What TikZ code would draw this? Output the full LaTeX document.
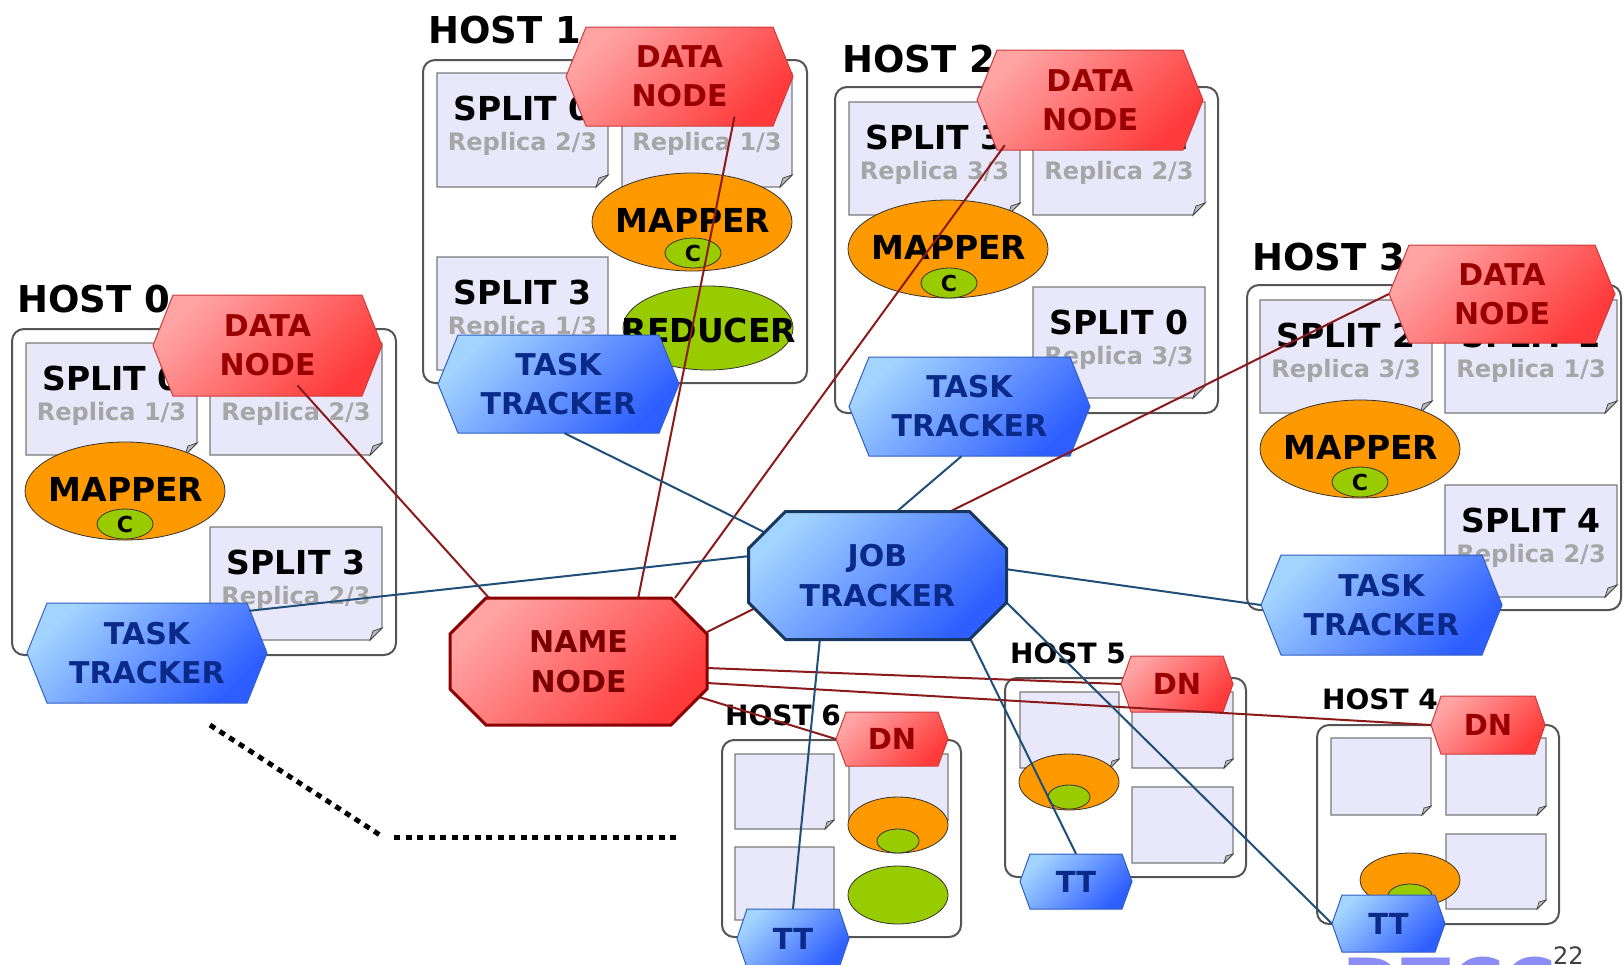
\documentclass[tikz,border=0pt]{standalone}
\usepackage{fontspec}
\setmainfont{DejaVu Sans}
\usetikzlibrary{shapes.geometric}
\definecolor{dnlight}{HTML}{FFA3A3}
\definecolor{dndark}{HTML}{FF3A3A}
\definecolor{dnborder}{HTML}{CC3A3A}
\definecolor{dntext}{HTML}{990000}
\definecolor{ttlight}{HTML}{A3D3FF}
\definecolor{ttdark}{HTML}{2E5EFF}
\definecolor{ttborder}{HTML}{2F5FBF}
\definecolor{tttext}{HTML}{0A2A8A}
\definecolor{nnborder}{HTML}{8B0000}
\definecolor{jtborder}{HTML}{17375E}
\definecolor{pagefill}{HTML}{E8E8FA}
\definecolor{pageedge}{HTML}{7A7A7A}
\definecolor{mapperor}{HTML}{FF9900}
\definecolor{cgreen}{HTML}{99CC00}
\definecolor{repgray}{HTML}{A6A6A6}
\definecolor{redline}{HTML}{8B1A1A}
\definecolor{blueline}{HTML}{1F4E79}
\definecolor{hostedge}{HTML}{555555}
\definecolor{wmblue}{HTML}{8C8CF5}

\newcommand\splitpage[7]{%
  \path[pagebox] (#2,#3) -- (#4,#3) -- (#4,{#5-12}) -- ({#4-12},#5) -- (#2,#5) -- cycle;
  \path[pagecurl] (#4,{#5-12}) -- ({#4-12},#5) -- ({#4-9},{#5-9}) -- cycle;
  \node[splittxt] (#1) at ({(#2+#4)/2},{#3+47}) {#6};
  \node[reptxt] (#1r) at ({(#2+#4)/2},{#3+77}) {#7};
}
\newcommand\blankpage[5]{%
  \path[pagebox] (#2,#3) -- (#4,#3) -- (#4,{#5-9}) -- ({#4-9},#5) -- (#2,#5) -- cycle;
  \path[pagecurl] (#4,{#5-9}) -- ({#4-9},#5) -- ({#4-7},{#5-7}) -- cycle;
  \coordinate (#1) at ({(#2+#4)/2},{(#3+#5)/2});
}
% name, cx, cy, w, h, slant, shape style, text style, text
\newcommand\hexnode[9]{%
  \path[#7] ({#2-#4/2},#3) -- ({#2-#4/2+#6},{#3-#5/2}) -- ({#2+#4/2-#6},{#3-#5/2})
     -- ({#2+#4/2},#3) -- ({#2+#4/2-#6},{#3+#5/2}) -- ({#2-#4/2+#6},{#3+#5/2}) -- cycle;
  \node[minimum width=#4pt, minimum height=#5pt, inner sep=0pt, #8] (#1) at (#2,#3) {#9};
}
% name, cx, cy, w, h, cut, shape style, text style, text
\newcommand\octnode[9]{%
  \path[#7] ({#2-#4/2},{#3-#5/2+#6}) -- ({#2-#4/2+#6},{#3-#5/2}) -- ({#2+#4/2-#6},{#3-#5/2})
     -- ({#2+#4/2},{#3-#5/2+#6}) -- ({#2+#4/2},{#3+#5/2-#6}) -- ({#2+#4/2-#6},{#3+#5/2})
     -- ({#2-#4/2+#6},{#3+#5/2}) -- ({#2-#4/2},{#3+#5/2-#6}) -- cycle;
  \node[minimum width=#4pt, minimum height=#5pt, inner sep=0pt, #8] (#1) at (#2,#3) {#9};
}

\begin{document}
\begin{tikzpicture}[x=1pt,y=-1pt,
  hostbox/.style={draw=hostedge, line width=2pt, fill=white, rounded corners=12pt},
  hostlbl/.style={font=\fontsize{37}{44}\selectfont\bfseries, anchor=base west, inner sep=0pt},
  shostlbl/.style={font=\fontsize{28}{34}\selectfont\bfseries, anchor=base west, inner sep=0pt},
  pagebox/.style={fill=pagefill, draw=pageedge, line width=1.2pt},
  pagecurl/.style={fill=gray!55, draw=black!75, line width=0.7pt},
  splittxt/.style={font=\fontsize{33}{40}\selectfont\bfseries, anchor=base, inner sep=0pt},
  reptxt/.style={font=\fontsize{24}{30}\selectfont\bfseries, text=repgray, anchor=base, inner sep=0pt},
  mapell/.style={ellipse, draw=black!80, line width=0.8pt, fill=mapperor, inner sep=0pt},
  cell/.style={ellipse, draw=black!80, line width=0.8pt, fill=cgreen, inner sep=0pt},
  maptxt/.style={font=\fontsize{33}{40}\selectfont\bfseries, inner sep=0pt},
  ctxt/.style={font=\fontsize{22}{26}\selectfont\bfseries, inner sep=0pt},
  dnshape/.style={draw=dnborder, line width=1pt, top color=dnlight, bottom color=dndark, shading angle=45},
  ttshape/.style={draw=ttborder, line width=1pt, top color=ttlight, bottom color=ttdark, shading angle=45},
  nnshape/.style={draw=nnborder, line width=3pt, top color=dnlight, bottom color=dndark, shading angle=45},
  jtshape/.style={draw=jtborder, line width=3pt, top color=ttlight, bottom color=ttdark, shading angle=45},
  dntxt/.style={font=\fontsize{30}{39}\selectfont\bfseries, text=dntext, align=center},
  tttxt/.style={font=\fontsize{30}{39}\selectfont\bfseries, text=tttext, align=center},
  sdntxt/.style={font=\fontsize{29}{35}\selectfont\bfseries, text=dntext},
  stttxt/.style={font=\fontsize{29}{35}\selectfont\bfseries, text=tttext},
  nntxt/.style={font=\fontsize{30}{40}\selectfont\bfseries, text=dntext!80!black, align=center},
  jttxt/.style={font=\fontsize{30}{40}\selectfont\bfseries, text=tttext, align=center},
  redconn/.style={draw=redline, line width=2pt},
  blueconn/.style={draw=blueline, line width=2pt},
  dotline/.style={line width=5pt, dash pattern=on 6pt off 5.5pt}
]
\useasboundingbox (0,0) rectangle (1624,964);

% watermark and page number
\node[font=\fontsize{72}{72}\selectfont\bfseries, text=wmblue, anchor=north west, inner sep=0pt] (wm) at (1342,957) {DTCC};
\node[font=\fontsize{24}{28}\selectfont, text=black!75, anchor=base west, inner sep=0pt] (pgno) at (1553,964) {22};

% ---------- HOST 0 ----------
\node[hostlbl] (h0l) at (17,312) {HOST 0};
\path[hostbox] (12,329) rectangle (396,655);
\splitpage{s0a}{26}{343}{197}{455}{SPLIT 0}{Replica 1/3}
\splitpage{s0b}{210}{343}{382}{455}{SPLIT 2}{Replica 2/3}
\splitpage{s0c}{210}{527}{382}{640}{SPLIT 3}{Replica 2/3}
\node[mapell, minimum width=200pt, minimum height=98pt] (m0) at (125,491) {};
\node[maptxt] (m0t) at (126,489) {MAPPER};
\node[cell, minimum width=56pt, minimum height=30pt] (c0) at (125,524) {};
\node[ctxt] (c0t) at (c0) {C};
\hexnode{dn0}{267.5}{345.5}{229}{101}{20}{dnshape}{dntxt}{DATA\\NODE}
\hexnode{tt0}{147}{653}{240}{100}{20}{ttshape}{tttxt}{TASK\\TRACKER}

% ---------- HOST 1 ----------
\node[hostlbl] (h1l) at (428,43) {HOST 1};
\path[hostbox] (423,60) rectangle (807,383);
\splitpage{s1a}{437}{73}{608}{187}{SPLIT 0}{Replica 2/3}
\splitpage{s1b}{622}{73}{792}{187}{SPLIT 2}{Replica 1/3}
\splitpage{s1c}{437}{257}{608}{370}{SPLIT 3}{Replica 1/3}
\node[mapell, minimum width=200pt, minimum height=98pt] (m1) at (692,222) {};
\node[maptxt] (m1t) at (693,220) {MAPPER};
\node[cell, minimum width=56pt, minimum height=30pt] (c1) at (693,253) {};
\node[ctxt] (c1t) at (c1) {C};
\node[cell, minimum width=170pt, minimum height=84pt] (r1) at (708,328) {};
\node[maptxt] (r1t) at (709,330) {REDUCER};
\hexnode{dn1}{679.5}{76.5}{227}{99}{20}{dnshape}{dntxt}{DATA\\NODE}
\hexnode{tt1}{558.5}{384}{241}{98}{20}{ttshape}{tttxt}{TASK\\TRACKER}

% ---------- HOST 2 ----------
\node[hostlbl] (h2l) at (842,72) {HOST 2};
\path[hostbox] (835,87) rectangle (1218,413);
\splitpage{s2a}{849}{102}{1020}{215}{SPLIT 3}{Replica 3/3}
\splitpage{s2b}{1033}{102}{1205}{215}{SPLIT 1}{Replica 2/3}
\splitpage{s2c}{1033}{287}{1205}{398}{SPLIT 0}{Replica 3/3}
\node[mapell, minimum width=200pt, minimum height=98pt] (m2) at (948,249) {};
\node[maptxt] (m2t) at (949,247) {MAPPER};
\node[cell, minimum width=56pt, minimum height=30pt] (c2) at (949,283) {};
\node[ctxt] (c2t) at (c2) {C};
\hexnode{dn2}{1090}{100}{226}{100}{20}{dnshape}{dntxt}{DATA\\NODE}
\hexnode{tt2}{969.5}{406.5}{241}{99}{20}{ttshape}{tttxt}{TASK\\TRACKER}

% ---------- HOST 3 ----------
\node[hostlbl] (h3l) at (1252,270) {HOST 3};
\path[hostbox] (1247,285) rectangle (1621,610);
\splitpage{s3a}{1260}{300}{1432}{413}{SPLIT 2}{Replica 3/3}
\splitpage{s3b}{1445}{300}{1617}{413}{SPLIT 1}{Replica 1/3}
\splitpage{s3c}{1445}{485}{1617}{597}{SPLIT 4}{Replica 2/3}
\node[mapell, minimum width=200pt, minimum height=98pt] (m3) at (1360,449) {};
\node[maptxt] (m3t) at (1361,447) {MAPPER};
\node[cell, minimum width=56pt, minimum height=30pt] (c3) at (1360,482) {};
\node[ctxt] (c3t) at (c3) {C};
\hexnode{dn3}{1502}{294}{226}{98}{20}{dnshape}{dntxt}{DATA\\NODE}
\hexnode{tt3}{1381.5}{605}{241}{100}{20}{ttshape}{tttxt}{TASK\\TRACKER}

% ---------- HOST 6 ----------
\node[shostlbl] (h6l) at (725,725) {HOST 6};
\path[hostbox] (722,740) rectangle (961,937);
\blankpage{p6a}{735}{754}{834}{829}
\blankpage{p6b}{735}{847}{834}{920}
\blankpage{p6c}{849}{754}{948}{829}
\node[mapell, minimum width=100pt, minimum height=56pt] (m6) at (898,825) {};
\node[cell, minimum width=42pt, minimum height=24pt] (c6) at (898,841) {};
\node[cell, minimum width=100pt, minimum height=58pt] (r6) at (898,895) {};
\hexnode{dn6}{892}{739}{112}{54}{10}{dnshape}{sdntxt}{DN}
\hexnode{tt6}{793}{938.5}{112}{59}{10}{ttshape}{stttxt}{TT}

% ---------- HOST 5 ----------
\node[shostlbl] (h5l) at (1010,663) {HOST 5};
\path[hostbox] (1005,678) rectangle (1246,877);
\blankpage{p5a}{1020}{692}{1119}{768}
\blankpage{p5b}{1132}{692}{1233}{768}
\blankpage{p5c}{1132}{787}{1233}{863}
\node[mapell, minimum width=100pt, minimum height=56pt] (m5) at (1069,782) {};
\node[cell, minimum width=42pt, minimum height=24pt] (c5) at (1069,797) {};
\hexnode{dn5}{1177}{684}{112}{56}{10}{dnshape}{sdntxt}{DN}
\hexnode{tt5}{1076}{881.5}{112}{55}{10}{ttshape}{stttxt}{TT}

% ---------- HOST 4 ----------
\node[shostlbl] (h4l) at (1322,709) {HOST 4};
\path[hostbox] (1317,725) rectangle (1559,924);
\blankpage{p4a}{1331}{738}{1431}{815}
\blankpage{p4b}{1446}{738}{1546}{815}
\blankpage{p4c}{1446}{834}{1546}{909}
\node[mapell, minimum width=100pt, minimum height=54pt] (m4) at (1410,880) {};
\node[cell, minimum width=44pt, minimum height=24pt] (c4) at (1410,896) {};
\hexnode{dn4}{1488}{725}{114}{58}{10}{dnshape}{sdntxt}{DN}
\hexnode{tt4}{1388.5}{923.5}{113}{57}{10}{ttshape}{stttxt}{TT}

% ---------- dotted line ----------
\draw[dotline] (210,725) -- (383,837);
\draw[dotline] (394,837) -- (680,837);

% ---------- connection points on the name node and job tracker ----------
\coordinate (nn0) at (490,599);
\coordinate (nn1) at (638,599);
\coordinate (nn2) at (675,598);
\coordinate (nn3) at (707,632);
\coordinate (nn5) at (707,668);
\coordinate (nn4) at (707,683);
\coordinate (nn6) at (699,697);
\coordinate (jt0) at (750,556);
\coordinate (jt1) at (764,532);
\coordinate (jt2) at (895,513);
\coordinate (jt3) at (1005,569);
\coordinate (jt4) at (1006,602);
\coordinate (jt6) at (820,638);
\coordinate (jt5) at (970,638);

% name node <-> data nodes
\draw[redconn] ([xshift=30pt,yshift=-40pt]dn0.center) -- (nn0);
\draw[redconn] ([xshift=55pt,yshift=-40pt]dn1.center) -- (nn1);
\draw[redconn] ([xshift=28pt,yshift=5pt]dn2.south west) -- (nn2);
\draw[redconn] (dn3.west) -- (nn3);
\draw[redconn] (dn5.west) -- (nn5);
\draw[redconn] (dn4.west) -- (nn4);
\draw[redconn] (dn6.west) -- (nn6);
% job tracker <-> task trackers
\draw[blueconn] ([xshift=-18pt,yshift=-8pt]tt0.north east) -- (jt0);
\draw[blueconn] ([xshift=6pt]tt1.south) -- (jt1);
\draw[blueconn] ([xshift=-8pt]tt2.south) -- (jt2);
\draw[blueconn] (tt3.west) -- (jt3);
\draw[blueconn] (tt6.north) -- (jt6);
\draw[blueconn] (tt5.north) -- (jt5);
\draw[blueconn] (tt4.west) -- (jt4);

% ---------- central nodes ----------
\octnode{nn}{578.5}{661.5}{257}{127}{36}{nnshape}{nntxt}{NAME\\NODE}
\octnode{jt}{877.5}{575.5}{258}{128}{37}{jtshape}{jttxt}{JOB\\TRACKER}
\end{tikzpicture}
\end{document}
